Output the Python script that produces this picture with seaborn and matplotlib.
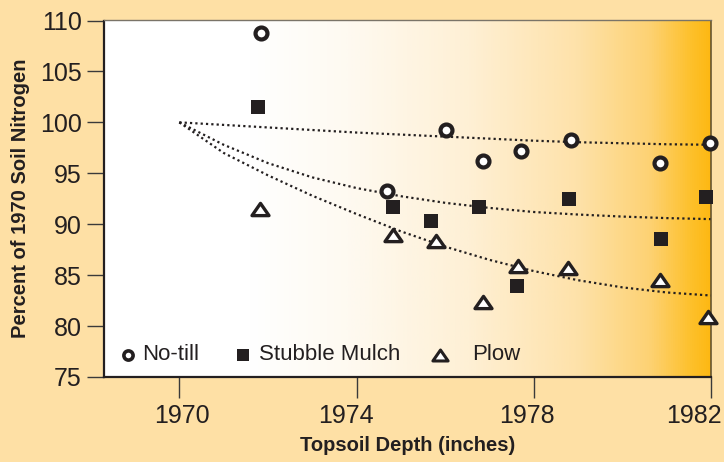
import numpy as np
import pandas as pd
import matplotlib
matplotlib.use("Agg")
import matplotlib.pyplot as plt
import matplotlib.transforms as mtransforms
from matplotlib.path import Path
from matplotlib.colors import LinearSegmentedColormap
import seaborn as sns

# ---------------------------------------
# Data
# ---------------------------------------

notill_year = [1971.84, 1974.69, 1976.01, 1976.85, 1977.72, 1978.84, 1980.86, 1981.97]
notill_pct = [108.8, 93.3, 99.25, 96.25, 97.2, 98.3, 96.0, 98.0]

mulch_year = [1971.77, 1974.83, 1975.68, 1976.77, 1977.63, 1978.80, 1980.87, 1981.89]
mulch_pct = [101.5, 91.65, 90.3, 91.65, 83.95, 92.45, 88.5, 92.65]

plow_year = [1971.82, 1974.83, 1975.80, 1976.85, 1977.65, 1978.78, 1980.86, 1981.93]
plow_pct = [91.5, 88.95, 88.4, 82.35, 85.9, 85.75, 84.55, 80.85]

# trend curves, read at each year
trend_year = list(range(1970, 1983))
notill_trend = [100, 99.75, 99.5, 99.25, 99.0, 98.8, 98.6, 98.4, 98.2, 98.05, 97.95, 97.85, 97.8]
mulch_trend = [100, 97.8, 96.0, 94.6, 93.55, 92.75, 92.1, 91.6, 91.2, 90.95, 90.75, 90.6, 90.5]
plow_trend = [100, 97.0, 94.8, 92.8, 91.0, 89.3, 87.8, 86.5, 85.4, 84.5, 83.8, 83.3, 83.0]

x_ticks = [1970, 1974, 1978, 1982]
y_ticks = [75, 80, 85, 90, 95, 100, 105, 110]

# ---------------------------------------
# Style
# ---------------------------------------

sns.set_theme(style="ticks")
plt.rcParams["font.family"] = ["Liberation Sans", "DejaVu Sans"]

ink = "#231f20"
bg = "#fee0a5"

fig = plt.figure(figsize=(7.24, 4.62), dpi=100, facecolor=bg)
ax = fig.add_axes([104 / 724, 1 - 377 / 462, 607 / 724, 356.5 / 462])
ax.set_facecolor("none")

# background gradient (white -> orange)
grad = LinearSegmentedColormap.from_list(
    "soil",
    [
        (0.0, "#ffffff"),
        (0.24, "#ffffff"),
        (0.40, "#fefaf1"),
        (0.60, "#fef0d5"),
        (0.78, "#fee2aa"),
        (0.90, "#fdd274"),
        (0.97, "#fdc02a"),
        (1.0, "#fdb813"),
    ],
)
ax.imshow(
    np.linspace(0, 1, 512).reshape(1, -1),
    cmap=grad,
    extent=[0, 1, 0, 1],
    transform=ax.transAxes,
    aspect="auto",
    zorder=0,
)

# ---------------------------------------
# Trend lines
# ---------------------------------------

trend = pd.DataFrame({
    "year": trend_year * 3,
    "pct": notill_trend + mulch_trend + plow_trend,
    "practice": ["No-till"] * 13 + ["Stubble Mulch"] * 13 + ["Plow"] * 13,
})

for name, grp in trend.groupby("practice"):
    sns.lineplot(
        data=grp, x="year", y="pct", ax=ax,
        color=ink, lw=1.6, linestyle=(0, (1, 1.4)),
        zorder=2, legend=False, clip_on=False,
    )

# ---------------------------------------
# Points
# ---------------------------------------

tri = Path([(-1, -0.72), (1, -0.72), (0, 0.72), (-1, -0.72)], closed=True)

sns.scatterplot(
    x=notill_year, y=notill_pct, ax=ax, marker="o", s=74,
    facecolor="white", edgecolor=ink, linewidth=3.0, zorder=4, clip_on=False,
)
sns.scatterplot(
    x=mulch_year, y=mulch_pct, ax=ax, marker="s", s=112,
    color=ink, linewidth=0, zorder=4, clip_on=False,
)
sns.scatterplot(
    x=plow_year, y=plow_pct, ax=ax, marker=tri, s=150,
    facecolor="white", edgecolor=ink, linewidth=2.4, zorder=4, clip_on=False,
)

# ---------------------------------------
# Legend (inside, bottom)
# ---------------------------------------

ly = 0.062
ax.scatter([0.040], [ly], transform=ax.transAxes, marker="o", s=44,
           facecolor="white", edgecolor=ink, linewidth=2.6, zorder=5, clip_on=False)
ax.text(0.063, ly, "No-till", transform=ax.transAxes, fontsize=16,
        color=ink, va="center", ha="left")
ax.scatter([0.229], [ly], transform=ax.transAxes, marker="s", s=72,
           color=ink, linewidth=0, zorder=5, clip_on=False)
ax.text(0.256, ly, "Stubble Mulch", transform=ax.transAxes, fontsize=16,
        color=ink, va="center", ha="left")
ax.scatter([0.5535], [ly], transform=ax.transAxes, marker=tri, s=120,
           facecolor="white", edgecolor=ink, linewidth=2.2, zorder=5, clip_on=False)
ax.text(0.607, ly, "Plow", transform=ax.transAxes, fontsize=16,
        color=ink, va="center", ha="left")

# ---------------------------------------
# Axes
# ---------------------------------------

ax.set_xlim(1968.30, 1982.0)
ax.set_ylim(75, 110)
ax.set_xticks(x_ticks)
ax.set_yticks(y_ticks)
ax.tick_params(axis="y", length=12.5, width=1.0, pad=3.5, color="#3a3a3a",
               labelsize=18, labelcolor=ink)
ax.tick_params(axis="x", length=15, width=1.0, pad=4.5, color="#3a3a3a",
               labelsize=18, labelcolor=ink)

# small nudges of the x tick labels as in the reference
shifts = [3, -11, -7, -17]
for lab, dx in zip(ax.get_xticklabels(), shifts):
    lab.set_transform(lab.get_transform() +
                      mtransforms.ScaledTranslation(dx / 100, 0, fig.dpi_scale_trans))

for side in ["left", "bottom"]:
    ax.spines[side].set_color(ink)
    ax.spines[side].set_linewidth(1.6)
ax.spines["top"].set_color("#7a7468")
ax.spines["top"].set_linewidth(1.0)
ax.spines["right"].set_color("#5a4a2a")
ax.spines["right"].set_linewidth(1.1)
for s in ax.spines.values():
    s.set_zorder(3)

ax.set_xlabel("Topsoil Depth (inches)", fontsize=14.5, fontweight="bold",
              color=ink, labelpad=6)
ax.set_ylabel("Percent of 1970 Soil Nitrogen", fontsize=14.5, fontweight="bold",
              color=ink, labelpad=7)

fig.savefig("out.png", dpi=100, facecolor=bg)
plt.close(fig)
